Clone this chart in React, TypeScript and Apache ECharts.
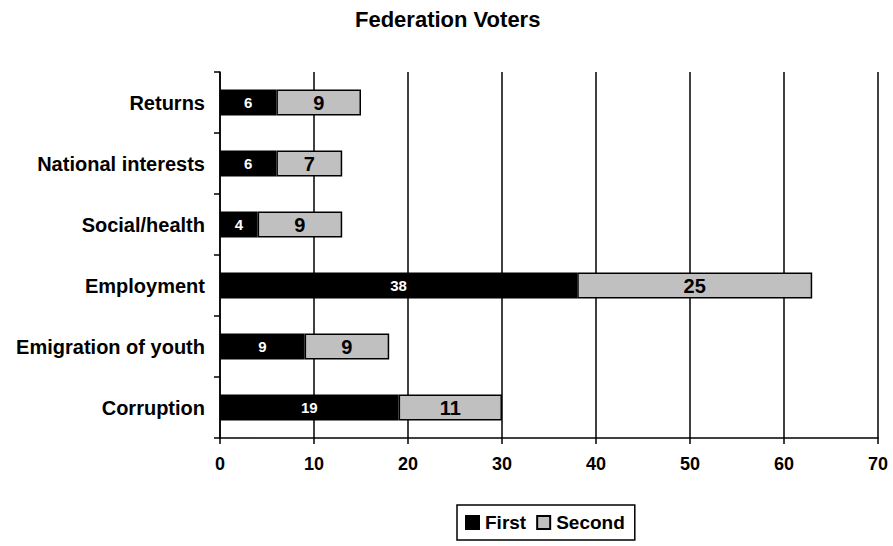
import React, { useEffect, useRef } from "react";
import * as echarts from "echarts";

// Categories listed bottom to top, as ECharts draws a category y-axis.
const categories = [
  "Corruption",
  "Emigration of youth",
  "Employment",
  "Social/health",
  "National interests",
  "Returns",
];
const firstValues = [19, 9, 38, 4, 6, 6];
const secondValues = [11, 9, 25, 9, 7, 9];
const seriesNames = ["First", "Second"];
const xTicks = { min: 0, max: 70, interval: 10 };

const FONT = "'Liberation Sans', Arial, Helvetica, sans-serif";

export default function App() {
  const ref = useRef<HTMLDivElement>(null);

  useEffect(() => {
    if (!ref.current) return;
    const chart = echarts.init(ref.current, null, { renderer: "svg" });
    chart.setOption({
      animation: false,
      backgroundColor: "#ffffff",
      textStyle: { fontFamily: FONT },
      title: {
        text: "Federation Voters",
        left: 355,
        top: 8,
        padding: 0,
        textStyle: {
          fontFamily: FONT,
          fontWeight: "bold",
          fontSize: 22,
          color: "#000",
        },
      },
      legend: {
        left: 457,
        top: 505,
        orient: "horizontal",
        padding: [8, 10, 8, 8],
        itemGap: 10,
        itemWidth: 13,
        itemHeight: 13,
        borderColor: "#000",
        borderWidth: 1.5,
        icon: "rect",
        data: seriesNames,
        textStyle: {
          fontFamily: FONT,
          fontWeight: "bold",
          fontSize: 19,
          color: "#000",
          padding: [0, 0, 0, 1],
        },
      },
      grid: { left: 220, right: 15, top: 72, bottom: 108, containLabel: false },
      xAxis: {
        type: "value",
        min: xTicks.min,
        max: xTicks.max,
        interval: xTicks.interval,
        axisLine: { show: true, lineStyle: { color: "#000", width: 1.5 } },
        axisTick: { show: true, length: 6, lineStyle: { color: "#000", width: 1.5 } },
        axisLabel: {
          margin: 17,
          fontFamily: FONT,
          fontWeight: "bold",
          fontSize: 18,
          color: "#000",
        },
        splitLine: { show: true, lineStyle: { color: "#000", width: 1.5 } },
      },
      yAxis: {
        type: "category",
        data: categories,
        axisLine: { show: true, lineStyle: { color: "#000", width: 1.5 } },
        axisTick: { show: true, length: 6, lineStyle: { color: "#000", width: 1.5 } },
        axisLabel: {
          margin: 15,
          fontFamily: FONT,
          fontWeight: "bold",
          fontSize: 20,
          color: "#000",
        },
        splitLine: { show: false },
      },
      series: [
        {
          name: seriesNames[0],
          type: "bar",
          stack: "total",
          barWidth: 26,
          data: firstValues,
          itemStyle: { color: "#000", borderColor: "#000", borderWidth: 1.5 },
          label: {
            show: true,
            position: "inside",
            color: "#fff",
            fontFamily: FONT,
            fontWeight: "bold",
            fontSize: 15,
          },
        },
        {
          name: seriesNames[1],
          type: "bar",
          stack: "total",
          barWidth: 26,
          data: secondValues,
          itemStyle: { color: "#C0C0C0", borderColor: "#000", borderWidth: 1.5 },
          label: {
            show: true,
            position: "inside",
            color: "#000",
            fontFamily: FONT,
            fontWeight: "bold",
            fontSize: 20,
          },
        },
      ],
    });
    return () => chart.dispose();
  }, []);

  return (
    <div
      ref={ref}
      style={{ position: "fixed", left: 0, top: 0, width: 893, height: 546 }}
    />
  );
}
